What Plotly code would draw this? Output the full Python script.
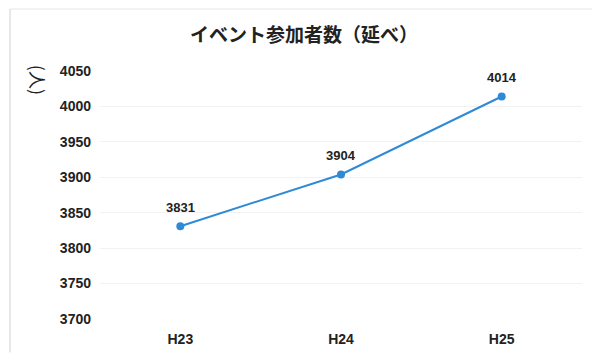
import plotly.graph_objects as go

categories = ["H23", "H24", "H25"]
values = [3831, 3904, 4014]
y_ticks = [3700, 3750, 3800, 3850, 3900, 3950, 4000, 4050]

W, H = 592, 357
L, R, T, B = 100, 10, 71, 34
pw, ph = W - L - R, H - T - B

def px_x(x):
    return (x - L) / pw

def px_y(y):
    return (H - B - y) / ph

fig = go.Figure()
fig.add_trace(go.Scatter(
    x=categories, y=values, mode="lines+markers",
    line=dict(color="#2F8AD6", width=2),
    marker=dict(color="#2F8AD6", size=8),
    hoverinfo="skip", showlegend=False,
))

annotations = []
for c, v in zip(categories, values):
    annotations.append(dict(
        x=c, y=v, text=str(v), showarrow=False, yshift=19,
        font=dict(family="Liberation Sans", size=13, color="#222222", weight="bold"),
    ))
annotations.append(dict(
    xref="paper", yref="paper", x=px_x(38), y=px_y(80),
    xanchor="center", yanchor="middle",
    text="(人)", textangle=90, showarrow=False,
    font=dict(family="Noto Sans CJK JP", size=18, color="#222222"),
))

shapes = [
    dict(type="line", xref="paper", yref="paper",
         x0=px_x(10), x1=px_x(10), y0=px_y(8), y1=px_y(357),
         line=dict(color="#d0d0d0", width=1)),
    dict(type="line", xref="paper", yref="paper",
         x0=px_x(10), x1=px_x(592), y0=px_y(8), y1=px_y(8),
         line=dict(color="#e6e6e6", width=1)),
]

fig.update_layout(
    width=W, height=H,
    margin=dict(l=L, r=R, t=T, b=B),
    paper_bgcolor="white", plot_bgcolor="white",
    title=dict(
        text="イベント参加者数（延べ）",
        x=304 / W, xref="container", xanchor="center",
        y=1 - 35 / H, yref="container", yanchor="middle",
        font=dict(family="Noto Sans CJK JP", size=19, color="#222222", weight="bold"),
    ),
    xaxis=dict(
        type="category", range=[-0.5, 2.5],
        showgrid=False, zeroline=False, showline=False, ticks="",
        ticklabelstandoff=10,
        tickfont=dict(family="Liberation Sans", size=14, color="#222222", weight="bold"),
    ),
    yaxis=dict(
        range=[3700, 4050], tickvals=y_ticks,
        showgrid=True, gridcolor="#f2f2f2", gridwidth=1,
        zeroline=False, showline=False, ticks="",
        ticklabelstandoff=8,
        tickfont=dict(family="Liberation Sans", size=14, color="#222222", weight="bold"),
    ),
    annotations=annotations,
    shapes=shapes,
)

fig.write_html("out.html")
